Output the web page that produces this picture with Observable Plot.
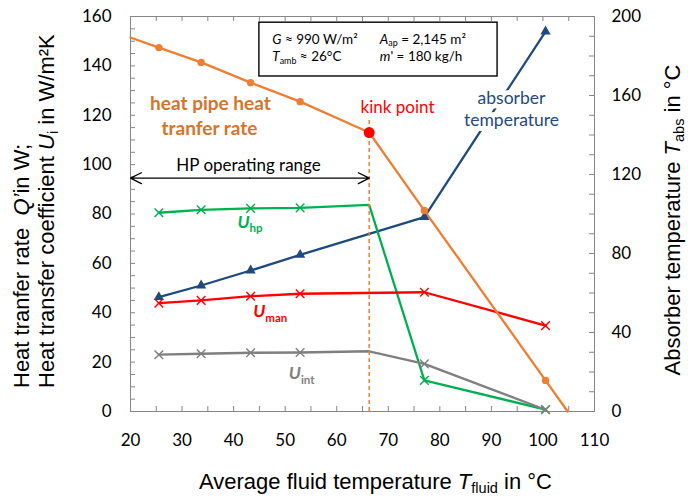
<!DOCTYPE html>
<html><head><meta charset="utf-8">
<script src="https://cdn.jsdelivr.net/npm/d3@7"></script>
<script src="https://cdn.jsdelivr.net/npm/@observablehq/plot@0.6"></script>
<style>body{margin:0;background:#fff}</style>
</head><body><div id="chart"></div>
<script>
// ---- data ----
const tOrange = [20, 25.5, 33.7, 43.3, 52.9, 66.3, 77.0, 100.5, 104.8];
const qHeatPipe = [151.5, 147.4, 141.4, 133.2, 125.5, 113.0, 81.4, 12.6, 0];
const tKink = 66.3;
const tU = [25.5, 33.7, 43.3, 52.9, 66.3, 77.0, 100.5];
const uHP = [80.5, 81.7, 82.3, 82.5, 83.7, 12.6, 0.8];
const uInt = [23.0, 23.4, 23.8, 23.9, 24.4, 19.3, 0.7];
const tMeas = [25.5, 33.7, 43.3, 52.9, 77.0, 100.5];
const uMan = [43.9, 45.0, 46.7, 47.7, 48.3, 34.8];
const tAbs = [57.9, 63.8, 71.4, 79.3, 98.4, 192.4];
const xTicks = [20, 30, 40, 50, 60, 70, 80, 90, 100, 110];
const yTicks = [0, 20, 40, 60, 80, 100, 120, 140, 160];
const y2Ticks = [0, 40, 80, 120, 160, 200];

const k = 160 / 200; // right axis -> left axis units
const rows = (xs, ys) => xs.map((x, i) => ({x, y: ys[i]}));
const orange = rows(tOrange, qHeatPipe);
const hp = rows(tU, uHP);
const uint = rows(tU, uInt);
const man = rows(tMeas, uMan);
const abs = rows(tMeas, tAbs.map(v => v * k));

const C = {orange: "#EE7F32", orangeText: "#D5742B", green: "#00B050", red: "#FF0000",
           gray: "#7F7F7F", blue: "#1F4A7D", axis: "#868686"};
const W = 688, H = 497, mL = 130, mR = 94, mT = 16, mB = 86;
const iw = W - mL - mR, ih = H - mT - mB;
const lw = 2.3;

const chart = Plot.plot({
  width: W, height: H, marginLeft: mL, marginRight: mR, marginTop: mT, marginBottom: mB,
  x: {domain: [20, 110]},
  y: {domain: [0, 160]},
  style: {fontFamily: "Lato, sans-serif", fontSize: "17px", background: "white", color: "#000"},
  marks: [
    Plot.frame({stroke: C.axis}),
    Plot.tickY(d3.range(0, 161, 5), {y: d => d, insetRight: iw - 5, stroke: C.axis}),
    Plot.tickY(d3.range(0, 201, 10).map(v => v * k), {y: d => d, insetLeft: iw - 5, stroke: C.axis}),
    Plot.tickX(d3.range(20, 111, 5), {x: d => d, insetTop: ih - 5, stroke: C.axis}),
    Plot.tickX(d3.range(20, 111, 5), {x: d => d, insetBottom: ih - 5, stroke: C.axis}),
    Plot.axisX(xTicks, {tickSize: 0, tickPadding: 22, label: null}),
    Plot.axisY(yTicks, {anchor: "left", tickSize: 0, tickPadding: 19, label: null}),
    Plot.axisY(y2Ticks.map(v => v * k), {anchor: "right", tickSize: 0, tickPadding: 17, label: null,
      tickFormat: d => String(Math.round(d / k))}),

    // annotation box
    Plot.rect([{x1: 45.0, x2: 91.2, y1: 135.7, y2: 157.5}],
      {x1: "x1", x2: "x2", y1: "y1", y2: "y2", fill: "white", stroke: "black", strokeWidth: 1.4}),
    Plot.text([
      {x: 47.5, y: 150.6, t: "G ≈ 990 W/m²"},
      {x: 47.5, y: 143.6, t: "T_amb ≈ 26°C"},
      {x: 68.35, y: 150.6, t: "A_ap = 2,145 m²"},
      {x: 68.35, y: 143.6, t: "m' = 180 kg/h"}
    ], {x: "x", y: "y", text: "t", textAnchor: "start", fontSize: 13.5}),

    // data series
    Plot.line(abs, {x: "x", y: "y", stroke: C.blue, strokeWidth: lw}),
    Plot.line(hp, {x: "x", y: "y", stroke: C.green, strokeWidth: lw}),
    Plot.line(uint, {x: "x", y: "y", stroke: C.gray, strokeWidth: lw}),
    Plot.line(man, {x: "x", y: "y", stroke: C.red, strokeWidth: lw}),
    Plot.ruleX([tKink], {y1: 0, y2: 118.7, stroke: C.orange, strokeWidth: 1.5, strokeDasharray: "4,3"}),
    Plot.line(orange, {x: "x", y: "y", stroke: C.orange, strokeWidth: lw}),
    Plot.dot(abs, {x: "x", y: "y", symbol: "triangle", fill: C.blue, r: 3.8}),
    Plot.dot(hp.filter(d => d.x !== tKink), {x: "x", y: "y", symbol: "times", stroke: C.green, r: 4, strokeWidth: 1.4}),
    Plot.dot(uint.filter(d => d.x !== tKink), {x: "x", y: "y", symbol: "times", stroke: C.gray, r: 4, strokeWidth: 1.4}),
    Plot.dot(man, {x: "x", y: "y", symbol: "times", stroke: C.red, r: 4, strokeWidth: 1.4}),
    Plot.dot(orange.slice(1, -1).filter(d => d.x !== tKink), {x: "x", y: "y", fill: C.orange, r: 3.7}),
    Plot.dot(orange.filter(d => d.x === tKink), {x: "x", y: "y", fill: C.red, r: 5.5}),

    // HP operating range arrow
    Plot.arrow([{x1: 43.15, x2: 20}, {x1: 43.15, x2: tKink}],
      {x1: "x1", x2: "x2", y1: 94.5, y2: 94.5, stroke: "black", strokeWidth: 1.3, headLength: 14, headAngle: 53}),
    Plot.text([{x: 42.9, y: 99.6, t: "HP operating range"}], {x: "x", y: "y", text: "t", fontSize: 17}),

    // labels
    Plot.text([{x: 35.5, y: 124.7, t: "heat pipe heat"}, {x: 35.3, y: 114.6, t: "tranfer rate"}],
      {x: "x", y: "y", text: "t", fill: C.orangeText, fontWeight: "bold", fontSize: 19}),
    Plot.text([{x: 71.8, y: 123.1, t: "kink point"}], {x: "x", y: "y", text: "t", fill: C.red, fontSize: 17}),
    Plot.text([{x: 93.9, y: 126.8, t: "absorber"}, {x: 93.9, y: 117.9, t: "temperature"}],
      {x: "x", y: "y", text: "t", fill: C.blue, stroke: "white", strokeWidth: 10, fontSize: 17.5}),
    Plot.text([{x: 40.75, y: 76.7, t: "U_hp"}], {x: "x", y: "y", text: "t", textAnchor: "start", fill: C.green, fontWeight: "bold", fontSize: 17.5}),
    Plot.text([{x: 43.8, y: 40.5, t: "U_man"}], {x: "x", y: "y", text: "t", textAnchor: "start", fill: C.red, fontWeight: "bold", fontSize: 17.5}),
    Plot.text([{x: 50.7, y: 15.3, t: "U_int"}], {x: "x", y: "y", text: "t", textAnchor: "start", fill: C.gray, fontWeight: "bold", fontSize: 17.5})
  ]
});

const ns = "http://www.w3.org/2000/svg";
function fillRich(el, parts, size, sub = 0.26) {
  el.textContent = "";
  let shift = 0;
  for (const [t, f = ""] of parts) {
    const ts = document.createElementNS(ns, "tspan");
    ts.textContent = t;
    if (f.includes("i")) ts.setAttribute("font-style", "italic");
    const target = f.includes("s") ? size * sub : 0;
    if (target !== shift) { ts.setAttribute("dy", (target - shift).toFixed(2)); shift = target; }
    if (f.includes("s")) ts.setAttribute("font-size", (size * 0.66).toFixed(2));
    el.appendChild(ts);
  }
}
function rich(key, parts, size, sub) {
  d3.select(chart).selectAll("text").filter(function () { return this.textContent === key; })
    .each(function () { fillRich(this, parts, size, sub); });
}
rich("G ≈ 990 W/m²", [["G", "i"], [" ≈ 990 W/m²"]], 13.5);
rich("T_amb ≈ 26°C", [["T", "i"], ["amb", "s"], [" ≈ 26°C"]], 13.5, 0.22);
rich("A_ap = 2,145 m²", [["A", "i"], ["ap", "s"], [" = 2,145 m²"]], 13.5, 0.16);
rich("m' = 180 kg/h", [["m", "i"], ["' = 180 kg/h"]], 13.5);
rich("U_hp", [["U", "i"], ["hp", "s"]], 17.5);
rich("U_man", [["U", "i"], ["man", "s"]], 17.5);
rich("U_int", [["U", "i"], ["int", "s"]], 17.5);

// axis titles
const tf = "'Liberation Sans', Arial, sans-serif";
function title(x, y, rot, anchor, parts, size) {
  const t = d3.select(chart).append("text")
    .attr("transform", `translate(${x},${y}) rotate(${rot})`)
    .attr("text-anchor", anchor).attr("font-family", tf).attr("font-size", size).attr("fill", "#000");
  fillRich(t.node(), parts, size, 0.2);
}
const ts = 22;
title(28.5, 388, -90, "start", [["Heat tranfer rate  "], ["Q’", "i"], ["in W;"]], ts);
title(54, 388, -90, "start", [["Heat transfer coefficient "], ["U", "i"], ["i", "s"], [" in W/m²K"]], ts);
title(375.5, 488.5, 0, "middle", [["Average fluid temperature "], ["T", "i"], ["fluid", "s"], [" in °C"]], ts);
title(680, 220, -90, "middle", [["Absorber temperature "], ["T", "i"], ["abs", "s"], [" in °C"]], ts);

document.getElementById("chart").appendChild(chart);
</script>
</body></html>
